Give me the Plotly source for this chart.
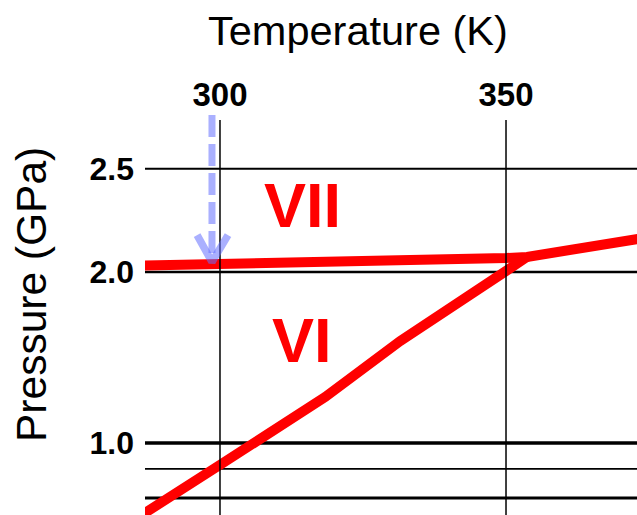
import math
import plotly.graph_objects as go

# ---- data ----
T_range = [286.89, 372.9]          # K
logP_range = [-0.1268, 0.5687]     # log10(GPa)

x_tickvals = [300, 350]
x_ticktext = ["300", "350"]
y_tickvals = [1.0, 2.0, 3.04]
y_ticktext = ["1.0", "2.0", "2.5"]

grid_P = [0.8, 0.9, 1.0, 2.0, 3.04]
grid_w = [3.0, 1.8, 3.5, 2.5, 1.8]
grid_T = [300, 350]

# ice VI / VII boundary
vii_T = [285.5, 286.89, 305.24, 326.22, 350.0, 353.67, 374.0]
vii_P = [2.052, 2.053, 2.070, 2.091, 2.117, 2.126, 2.295]
# ice VI / liquid boundary
vi_T = [285.5, 286.9, 300.0, 318.4, 331.5, 350.0, 353.67]
vi_P = [0.738, 0.753, 0.915, 1.205, 1.512, 2.008, 2.126]

phase_labels = ["VII", "VI"]
label_T = [314.5, 314.4]
label_P = [2.624, 1.518]

# arrow (300 K isotherm marker)
arrow_T = 298.6
arrow_P_top = 3.78
arrow_P_tip = 2.083
arrow_head_T = [296.0, 298.6, 301.4]
arrow_head_P = [2.323, 2.083, 2.323]

RED = "#ff0000"
ARROW = "rgba(100,112,255,0.55)"

fig = go.Figure()

# horizontal grid lines (under the phase boundaries)
for p, w in zip(grid_P, grid_w):
    fig.add_trace(go.Scatter(x=T_range, y=[p, p], mode="lines",
                             line=dict(color="black", width=w),
                             hoverinfo="skip", showlegend=False))

# phase boundaries
fig.add_trace(go.Scatter(x=vii_T, y=vii_P, mode="lines",
                         line=dict(color=RED, width=10),
                         hoverinfo="skip", showlegend=False))
fig.add_trace(go.Scatter(x=vi_T, y=vi_P, mode="lines",
                         line=dict(color=RED, width=10),
                         hoverinfo="skip", showlegend=False))

# vertical grid lines (above)
P_lo, P_hi = 10 ** logP_range[0], 10 ** logP_range[1]
for t in grid_T:
    fig.add_trace(go.Scatter(x=[t, t], y=[P_lo, P_hi], mode="lines",
                             line=dict(color="black", width=1.5),
                             hoverinfo="skip", showlegend=False))

# arrow head
fig.add_trace(go.Scatter(x=arrow_head_T, y=arrow_head_P, mode="lines",
                         line=dict(color=ARROW, width=7.5),
                         hoverinfo="skip", showlegend=False))


def P_to_paper(p):
    return (math.log10(p) - logP_range[0]) / (logP_range[1] - logP_range[0])


# arrow shaft (dashed), may extend above plot area
fig.add_shape(type="line", xref="x", yref="paper",
              x0=arrow_T, x1=arrow_T,
              y0=P_to_paper(arrow_P_top), y1=P_to_paper(arrow_P_tip * 1.01),
              line=dict(color=ARROW, width=7, dash="22px,7px"))

for txt, t, p in zip(phase_labels, label_T, label_P):
    fig.add_annotation(x=t, y=math.log10(p), xref="x", yref="y", text=txt,
                       showarrow=False,
                       font=dict(family="Liberation Sans, Arial", size=63,
                                 color=RED, weight="bold"))

fig.add_annotation(text="Temperature (K)", xref="paper", yref="paper",
                   x=0.432, y=1.0 + (120 - 30) / 395, showarrow=False,
                   xanchor="center", yanchor="middle",
                   font=dict(family="Liberation Sans, Arial", size=41.5, color="black"))
fig.add_annotation(text="Pressure (GPa)", xref="paper", yref="paper",
                   x=(31 - 145) / 492, y=(515 - 295) / 395, showarrow=False,
                   textangle=-90, xanchor="center", yanchor="middle",
                   font=dict(family="Liberation Sans, Arial", size=42.5, color="black"))

fig.update_layout(
    width=637, height=515,
    margin=dict(l=145, r=0, t=120, b=0),
    paper_bgcolor="white", plot_bgcolor="white",
    showlegend=False,
    xaxis=dict(side="top", range=T_range, tickvals=x_tickvals, ticktext=x_ticktext,
               showgrid=False, zeroline=False, showline=False, ticks="",
               ticklabelstandoff=6,
               tickfont=dict(family="Liberation Sans, Arial", size=33,
                             color="black", weight="bold")),
    yaxis=dict(type="log", range=logP_range, tickvals=y_tickvals, ticktext=y_ticktext,
               showgrid=False, zeroline=False, showline=False, ticks="",
               ticklabelstandoff=10,
               tickfont=dict(family="Liberation Sans, Arial", size=32,
                             color="black", weight="bold")),
)

fig.write_html("out.html")
